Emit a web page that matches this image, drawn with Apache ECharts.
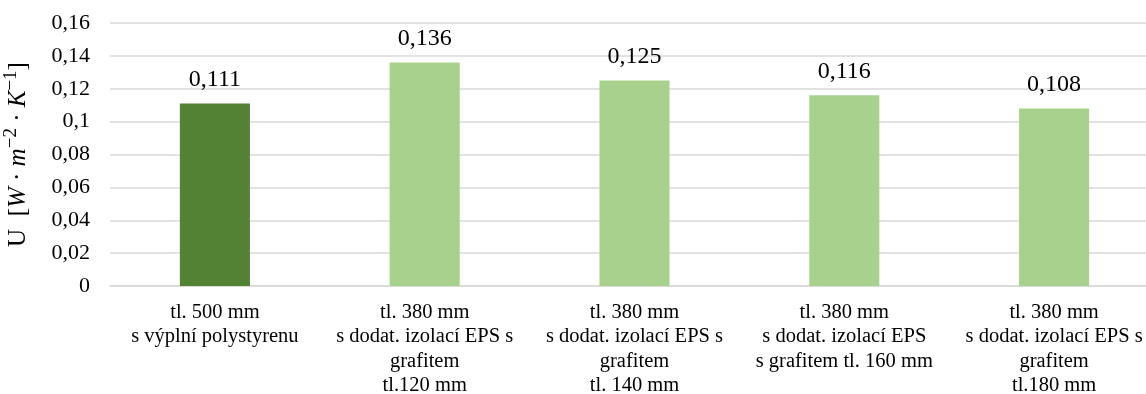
<!DOCTYPE html>
<html><head><meta charset="utf-8">
<script src="https://cdn.jsdelivr.net/npm/echarts@6/dist/echarts.min.js"></script>
<style>html,body{margin:0;padding:0;background:#fff;overflow:hidden}#c{width:1146px;height:394px}</style>
</head><body><div id="c"></div>
<script>
const categories = [
  "tl. 500 mm\ns výplní polystyrenu",
  "tl. 380 mm\ns dodat. izolací EPS s\ngrafitem\ntl.120 mm",
  "tl. 380 mm\ns dodat. izolací EPS s\ngrafitem\ntl. 140 mm",
  "tl. 380 mm\ns dodat. izolací EPS\ns grafitem tl. 160 mm",
  "tl. 380 mm\ns dodat. izolací EPS s\ngrafitem\ntl.180 mm"
];
const values = [0.111, 0.136, 0.125, 0.116, 0.108];
const barColors = ["#548235", "#A9D18E", "#A9D18E", "#A9D18E", "#A9D18E"];
const yTickLabels = ["0", "0,02", "0,04", "0,06", "0,08", "0,1", "0,12", "0,14", "0,16"];

const FONT = "'Liberation Serif', 'Times New Roman', serif";
const chart = echarts.init(document.getElementById('c'), null, {renderer: 'canvas'});
chart.setOption({
  animation: false,
  grid: {left: 110, right: -13, top: 23, bottom: 108, containLabel: false, outerBoundsMode: 'none'},
  xAxis: {
    type: 'category',
    data: categories,
    axisLine: {lineStyle: {color: '#d9d9d9', width: 1.5}},
    axisTick: {show: false},
    axisLabel: {interval: 0, color: '#000', fontFamily: FONT, fontSize: 20.5, lineHeight: 24.5, margin: 14}
  },
  yAxis: {
    type: 'value', min: 0, max: 0.16, interval: 0.02,
    axisLine: {show: false}, axisTick: {show: false},
    splitLine: {lineStyle: {color: '#d9d9d9', width: 1.5}},
    axisLabel: {color: '#000', fontFamily: FONT, fontSize: 22, margin: 20,
      formatter: v => yTickLabels[Math.round(v / 0.02)]},
    name: '{n|U}  {n|[}{i|W}{n| · }{i|m}{s|−2}{n| · }{i|K}{s|−1}{n|]}',
    nameLocation: 'middle', nameGap: 76, nameRotate: 90,
    nameTextStyle: {
      color: '#000', fontFamily: FONT, fontSize: 25,
      rich: {
        n: {fontFamily: FONT, fontSize: 25, color: '#000'},
        i: {fontFamily: FONT, fontSize: 25, fontStyle: 'italic', color: '#000'},
        s: {fontFamily: FONT, fontSize: 19, color: '#000', padding: [0, 0, 13, 0]}
      }
    }
  },
  series: [{
    type: 'bar',
    data: values.map((v, i) => ({value: v, itemStyle: {color: barColors[i]}})),
    barWidth: '33.4%',
    label: {show: true, position: 'top', distance: 12, color: '#000', fontFamily: FONT, fontSize: 24,
      formatter: p => String(p.value).replace('.', ',')}
  }]
});
</script></body></html>
